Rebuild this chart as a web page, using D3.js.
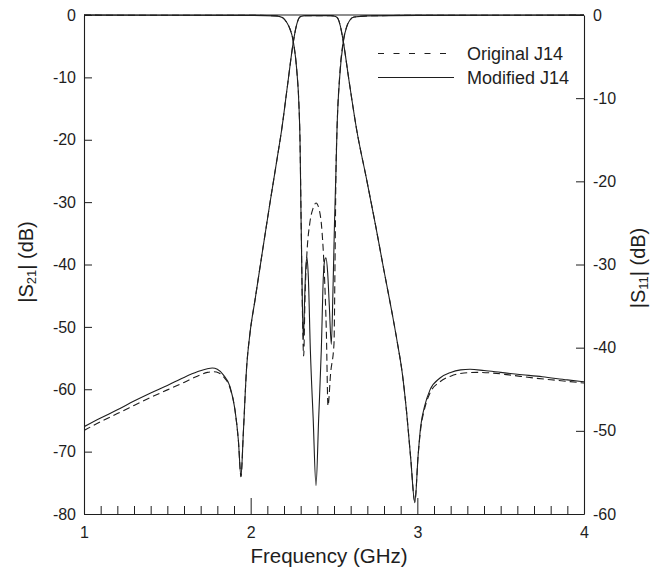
<!DOCTYPE html>
<html>
<head>
<meta charset="utf-8">
<script src="https://cdn.jsdelivr.net/npm/d3@7/dist/d3.min.js"></script>
<style>
  html, body { margin: 0; padding: 0; background: #fff; }
  svg { display: block; font-family: "Liberation Sans", Arial, sans-serif; }
</style>
</head>
<body>
<svg id="chart" width="659" height="569"></svg>
<script>
// ---------------- data (frequency GHz, dB) ----------------
const xTicks = [1, 2, 3, 4];
const yLeftTicks = [0, -10, -20, -30, -40, -50, -60, -70, -80];
const yRightTicks = [0, -10, -20, -30, -40, -50, -60];
const seriesNames = ["Original J14", "Modified J14"];

// |S21| (left axis)
const s21Modified = [
  [1.00,-66.0],[1.10,-64.6],[1.20,-63.3],[1.30,-61.9],[1.40,-60.6],[1.50,-59.4],[1.60,-58.1],
  [1.68,-57.2],[1.74,-56.7],[1.77,-56.6],[1.80,-56.8],[1.836,-57.7],[1.876,-59.6],[1.906,-63.3],
  [1.926,-68.1],[1.942,-74.0],[1.956,-67.0],[1.976,-56.4],[1.996,-51.0],[2.026,-45.7],[2.07,-38.0],
  [2.116,-30.1],[2.16,-22.8],[2.186,-18.4],[2.22,-11.5],[2.256,-4.3],[2.272,-2.0],[2.286,-0.7],
  [2.30,-0.25],[2.33,-0.1],[2.40,-0.1],[2.48,-0.1],[2.51,-0.25],[2.526,-0.7],[2.54,-2.0],
  [2.556,-4.3],[2.59,-10.5],[2.636,-18.4],[2.696,-26.4],[2.75,-33.8],[2.80,-41.0],[2.85,-48.0],
  [2.88,-52.5],[2.91,-57.5],[2.935,-63.5],[2.96,-71.0],[2.985,-78.2],[3.005,-70.5],[3.02,-66.0],
  [3.045,-62.6],[3.076,-60.1],[3.136,-58.2],[3.20,-57.3],[3.26,-56.9],[3.316,-56.8],[3.40,-57.0],
  [3.50,-57.3],[3.60,-57.6],[3.75,-58.0],[3.90,-58.5],[4.00,-58.8]
];
const s21Original = [
  [1.00,-66.6],[1.10,-65.2],[1.20,-63.9],[1.30,-62.6],[1.40,-61.3],[1.50,-60.1],[1.60,-58.9],
  [1.68,-57.9],[1.74,-57.3],[1.78,-57.2],[1.81,-57.4],[1.84,-58.1],[1.876,-59.8],[1.906,-63.4],
  [1.926,-68.1],[1.942,-74.0],[1.956,-67.0],[1.976,-56.4],[1.996,-51.0],[2.026,-45.7],[2.07,-38.0],
  [2.116,-30.1],[2.16,-22.8],[2.186,-18.4],[2.22,-11.5],[2.256,-4.3],[2.272,-2.0],[2.286,-0.7],
  [2.30,-0.25],[2.33,-0.1],[2.40,-0.1],[2.48,-0.1],[2.51,-0.25],[2.526,-0.7],[2.54,-2.0],
  [2.556,-4.3],[2.59,-10.5],[2.636,-18.4],[2.696,-26.4],[2.75,-33.8],[2.80,-41.0],[2.85,-48.0],
  [2.88,-52.5],[2.91,-57.5],[2.935,-63.5],[2.96,-71.0],[2.985,-78.0],[3.005,-70.5],[3.02,-66.4],
  [3.045,-63.0],[3.076,-60.6],[3.136,-58.8],[3.20,-57.9],[3.28,-57.4],[3.36,-57.3],[3.45,-57.4],
  [3.55,-57.7],[3.70,-58.2],[3.85,-58.6],[4.00,-59.0]
];

// |S11| (right axis)
const s11Modified = [
  [1.00,-0.02],[2.00,-0.04],[2.15,-0.1],[2.19,-0.3],[2.206,-0.6],[2.23,-1.4],[2.256,-3.2],
  [2.276,-6.5],[2.29,-11.0],[2.296,-15.0],[2.302,-24.0],[2.308,-32.0],[2.316,-39.0],[2.324,-34.0],
  [2.331,-30.3],[2.338,-29.2],[2.346,-31.5],[2.358,-40.2],[2.375,-48.5],[2.392,-56.6],[2.408,-48.5],
  [2.424,-40.2],[2.436,-31.5],[2.445,-29.4],[2.452,-29.2],[2.462,-31.0],[2.472,-35.0],[2.484,-39.6],
  [2.494,-33.0],[2.503,-25.0],[2.512,-18.6],[2.518,-13.8],[2.534,-7.5],[2.556,-3.2],[2.58,-1.2],
  [2.596,-0.6],[2.62,-0.25],[2.70,-0.1],[3.00,-0.04],[4.00,-0.02]
];
const s11Original = [
  [1.00,-0.02],[2.00,-0.04],[2.15,-0.1],[2.19,-0.3],[2.206,-0.6],[2.23,-1.4],[2.256,-3.2],
  [2.276,-6.5],[2.29,-11.0],[2.296,-15.0],[2.303,-25.0],[2.31,-35.0],[2.318,-41.0],[2.326,-34.0],
  [2.338,-28.5],[2.355,-25.0],[2.375,-23.2],[2.392,-22.6],[2.41,-23.3],[2.428,-26.0],[2.442,-31.0],
  [2.454,-38.0],[2.464,-47.0],[2.48,-43.0],[2.50,-39.5],[2.506,-30.0],[2.512,-18.6],[2.518,-13.8],
  [2.534,-7.3],[2.556,-3.1],[2.58,-1.2],[2.596,-0.6],[2.62,-0.25],[2.70,-0.1],[3.00,-0.04],[4.00,-0.02]
];

// ---------------- layout ----------------
const svg = d3.select("#chart");
const L = 84, R = 584, T = 15, B = 514;
const ink = "#1e1e1e";
const fmt = d => String(d);   // plain hyphen-minus as in the original

const x = d3.scaleLinear().domain([1, 4]).range([L, R]);
const yL = d3.scaleLinear().domain([-80, 0]).range([B, T]);
const yR = d3.scaleLinear().domain([-60, 0]).range([B, T]);

svg.append("defs").append("clipPath").attr("id", "plotclip")
  .append("rect").attr("x", L).attr("y", T - 1).attr("width", R - L).attr("height", B - T + 1);

// top border
svg.append("line").attr("x1", L).attr("x2", R).attr("y1", T).attr("y2", T)
  .attr("stroke", ink).attr("stroke-width", 1.1);

// bottom axis: minor ticks every 0.1 GHz, labels at integers
const isMajor = d => xTicks.some(t => Math.abs(t - d) < 1e-9);
const minorVals = d3.range(0, 31).map(i => 1 + i / 10);
const xAxis = d3.axisBottom(x).tickValues(minorVals).tickSize(-8).tickSizeOuter(0).tickPadding(13)
  .tickFormat(d => isMajor(d) ? fmt(Math.round(d)) : "");
const gx = svg.append("g").attr("transform", `translate(0,${B})`).call(xAxis);
gx.selectAll(".tick line").filter(d => isMajor(d)).attr("y2", -16);

const gyL = svg.append("g").attr("transform", `translate(${L},0)`)
  .call(d3.axisLeft(yL).tickValues(yLeftTicks).tickSize(-8).tickSizeOuter(0).tickPadding(8).tickFormat(fmt));

const gyR = svg.append("g").attr("transform", `translate(${R},0)`)
  .call(d3.axisRight(yR).tickValues(yRightTicks).tickSize(-8).tickSizeOuter(0).tickPadding(9).tickFormat(fmt));

[gx, gyL, gyR].forEach(g => {
  g.selectAll("path.domain").attr("stroke", ink).attr("stroke-width", 1.1);
  g.selectAll(".tick line").attr("stroke", ink).attr("stroke-width", 1);
  g.selectAll(".tick text").attr("fill", ink).style("font-size", "16px")
    .style("font-family", "'Liberation Sans', Arial, sans-serif");
});

// curves
const lineL = d3.line().x(d => x(d[0])).y(d => yL(d[1])).curve(d3.curveMonotoneX);
const lineR = d3.line().x(d => x(d[0])).y(d => yR(d[1])).curve(d3.curveMonotoneX);
const plot = svg.append("g").attr("clip-path", "url(#plotclip)");

const curves = [
  { data: s21Original, gen: lineL, dash: "7,4" },
  { data: s11Original, gen: lineR, dash: "7,4" },
  { data: s21Modified, gen: lineL, dash: null },
  { data: s11Modified, gen: lineR, dash: null }
];
curves.forEach(c => {
  plot.append("path").datum(c.data).attr("d", c.gen)
    .attr("fill", "none").attr("stroke", ink).attr("stroke-width", 1.1)
    .attr("stroke-dasharray", c.dash);
});

// legend
const legend = svg.append("g");
const legRows = [
  { name: seriesNames[0], dash: "6,9.5", y: 53.5 },
  { name: seriesNames[1], dash: null, y: 77.5 }
];
legRows.forEach(r => {
  legend.append("line").attr("x1", 378).attr("x2", 454).attr("y1", r.y).attr("y2", r.y)
    .attr("stroke", ink).attr("stroke-width", 1.1).attr("stroke-dasharray", r.dash);
  legend.append("text").attr("x", 467).attr("y", r.y).attr("dy", "0.36em")
    .attr("fill", ink).style("font-size", "18px").text(r.name);
});

// axis titles
svg.append("text").attr("x", (L + R) / 2 - 5).attr("y", 563)
  .attr("text-anchor", "middle").attr("fill", ink).style("font-size", "20.5px")
  .text("Frequency (GHz)");

function yTitle(xPos, yPos, sub) {
  const t = svg.append("text").attr("transform", `translate(${xPos},${yPos}) rotate(-90)`)
    .attr("text-anchor", "middle").attr("fill", ink).style("font-size", "20px");
  t.append("tspan").text("|S");
  t.append("tspan").attr("baseline-shift", "-25%").style("font-size", "13px").text(sub);
  t.append("tspan").text("| (dB)");
}
yTitle(33, 262, "21");
yTitle(645, 268, "11");
</script>
</body>
</html>
